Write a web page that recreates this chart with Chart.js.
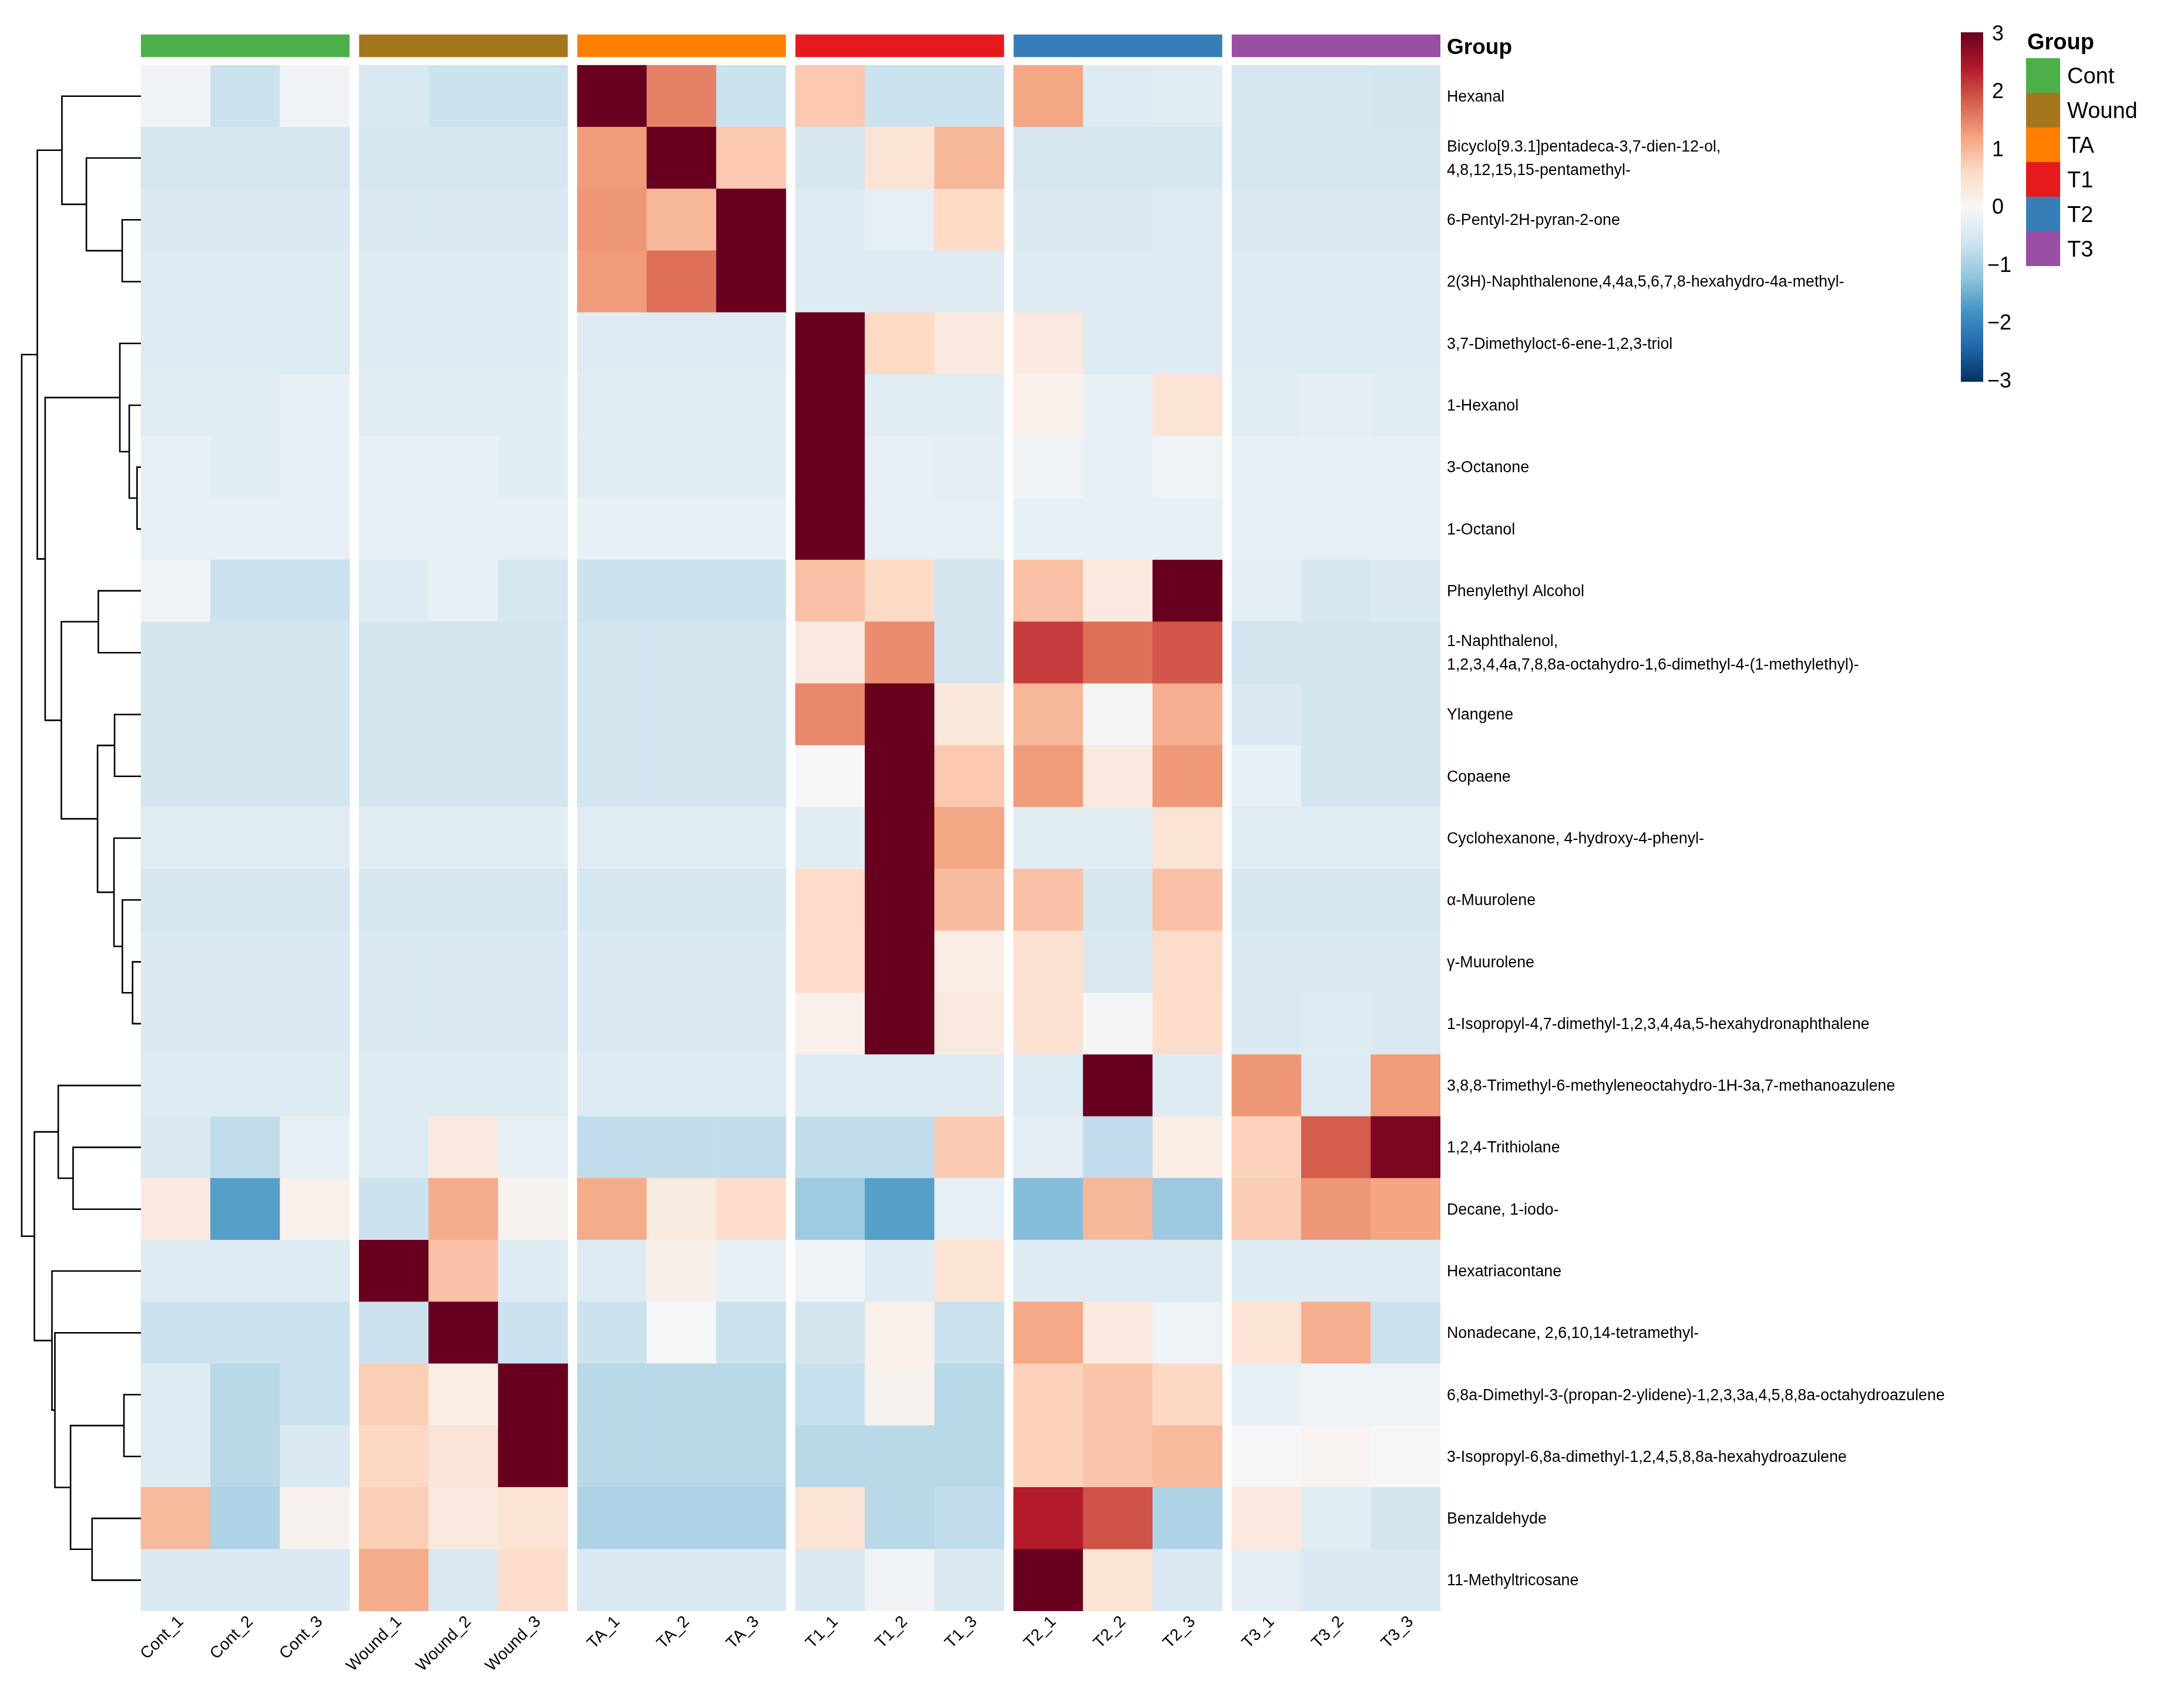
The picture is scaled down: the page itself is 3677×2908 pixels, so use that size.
<!DOCTYPE html>
<html>
<head>
<meta charset="utf-8">
<script src="https://cdn.jsdelivr.net/npm/chart.js"></script>
<style>
html,body{margin:0;padding:0;background:#fff;overflow:hidden}
#wrap{position:relative;width:3677px;height:2908px;font-family:'Liberation Sans',Arial,sans-serif;color:#000}
#c{position:absolute;left:0;top:0}
.lg{position:absolute;line-height:1;white-space:nowrap;transform:translateY(-50%)}
</style>
</head>
<body>
<div id="wrap"><canvas id="c" width="3677" height="2908"></canvas><div id="legend"></div></div>
<script>
// ---------------- data ----------------
const ROW_NAMES = [
  'Hexanal',
  ['Bicyclo[9.3.1]pentadeca-3,7-dien-12-ol,', '4,8,12,15,15-pentamethyl-'],
  '6-Pentyl-2H-pyran-2-one',
  '2(3H)-Naphthalenone,4,4a,5,6,7,8-hexahydro-4a-methyl-',
  '3,7-Dimethyloct-6-ene-1,2,3-triol',
  '1-Hexanol',
  '3-Octanone',
  '1-Octanol',
  'Phenylethyl Alcohol',
  ['1-Naphthalenol,', '1,2,3,4,4a,7,8,8a-octahydro-1,6-dimethyl-4-(1-methylethyl)-'],
  'Ylangene',
  'Copaene',
  'Cyclohexanone, 4-hydroxy-4-phenyl-',
  'α-Muurolene',
  'γ-Muurolene',
  '1-Isopropyl-4,7-dimethyl-1,2,3,4,4a,5-hexahydronaphthalene',
  '3,8,8-Trimethyl-6-methyleneoctahydro-1H-3a,7-methanoazulene',
  '1,2,4-Trithiolane',
  'Decane, 1-iodo-',
  'Hexatriacontane',
  'Nonadecane, 2,6,10,14-tetramethyl-',
  '6,8a-Dimethyl-3-(propan-2-ylidene)-1,2,3,3a,4,5,8,8a-octahydroazulene',
  '3-Isopropyl-6,8a-dimethyl-1,2,4,5,8,8a-hexahydroazulene',
  'Benzaldehyde',
  '11-Methyltricosane'
];
const COL_NAMES = ['Cont_1','Cont_2','Cont_3','Wound_1','Wound_2','Wound_3','TA_1','TA_2','TA_3',
                   'T1_1','T1_2','T1_3','T2_1','T2_2','T2_3','T3_1','T3_2','T3_3'];
const GROUP_NAMES = ['Cont','Wound','TA','T1','T2','T3'];
const GROUP_COLORS = ['#4DAF4A','#A6761D','#FF7F00','#E41A1C','#377EB8','#984EA3'];
const LEGEND_TICKS = [3,2,1,0,-1,-2,-3];
const PALETTE = ['#053061','#2166AC','#4393C3','#92C5DE','#D1E5F0','#F7F7F7','#FDDBC7','#F4A582','#D6604D','#B2182B','#67001F'];

// scaled values per group (rows in ROW_NAMES order, 3 samples each)
const CONT = [
  [-0.1,-0.65,-0.1],[-0.52,-0.52,-0.52],[-0.46,-0.46,-0.46],[-0.4,-0.4,-0.4],[-0.4,-0.4,-0.4],
  [-0.33,-0.33,-0.25],[-0.25,-0.33,-0.25],[-0.25,-0.25,-0.25],[-0.1,-0.65,-0.65],[-0.57,-0.57,-0.57],
  [-0.57,-0.57,-0.57],[-0.57,-0.57,-0.57],[-0.33,-0.33,-0.33],[-0.52,-0.52,-0.52],[-0.46,-0.46,-0.46],
  [-0.46,-0.46,-0.46],[-0.4,-0.4,-0.4],[-0.46,-0.75,-0.25],[0.3,-1.66,0.15],[-0.4,-0.4,-0.4],
  [-0.65,-0.65,-0.65],[-0.4,-0.83,-0.65],[-0.4,-0.83,-0.46],[0.97,-0.93,0.1],[-0.46,-0.46,-0.46]
];
const WOUND = [
  [-0.48,-0.65,-0.65],[-0.52,-0.52,-0.52],[-0.46,-0.46,-0.46],[-0.4,-0.4,-0.4],[-0.4,-0.4,-0.4],
  [-0.33,-0.33,-0.33],[-0.25,-0.25,-0.33],[-0.25,-0.25,-0.25],[-0.4,-0.25,-0.52],[-0.57,-0.57,-0.57],
  [-0.57,-0.57,-0.57],[-0.57,-0.57,-0.57],[-0.33,-0.33,-0.33],[-0.52,-0.52,-0.52],[-0.46,-0.46,-0.46],
  [-0.46,-0.46,-0.46],[-0.4,-0.4,-0.4],[-0.4,0.3,-0.25],[-0.65,1.12,0.1],[3,0.88,-0.4],
  [-0.65,3,-0.65],[0.75,0.22,3],[0.62,0.4,3],[0.75,0.3,0.42],[1.12,-0.46,0.55]
];
const TA = [
  [3,1.52,-0.65],[1.28,3,0.8],[1.32,0.99,3],[1.28,1.67,3],[-0.4,-0.4,-0.4],
  [-0.33,-0.33,-0.33],[-0.33,-0.33,-0.33],[-0.25,-0.25,-0.25],[-0.65,-0.65,-0.65],[-0.57,-0.57,-0.57],
  [-0.57,-0.57,-0.57],[-0.57,-0.57,-0.57],[-0.33,-0.33,-0.33],[-0.52,-0.52,-0.52],[-0.46,-0.46,-0.46],
  [-0.46,-0.46,-0.46],[-0.4,-0.4,-0.4],[-0.75,-0.75,-0.75],[1.12,0.25,0.55],[-0.4,0.18,-0.25],
  [-0.65,-0.03,-0.65],[-0.83,-0.83,-0.83],[-0.83,-0.83,-0.83],[-0.93,-0.93,-0.93],[-0.46,-0.46,-0.46]
];
const T1 = [
  [0.8,-0.65,-0.65],[-0.52,0.43,1.0],[-0.4,-0.27,0.6],[-0.4,-0.4,-0.4],[3,0.6,0.3],
  [3,-0.33,-0.33],[3,-0.25,-0.3],[3,-0.25,-0.25],[0.9,0.6,-0.57],[0.3,1.42,-0.57],
  [1.46,3,0.33],[0.0,3,0.8],[-0.33,3,1.18],[0.58,3,0.93],[0.55,3,0.22],
  [0.15,3,0.3],[-0.4,-0.4,-0.4],[-0.75,-0.75,0.78],[-1.08,-1.66,-0.25],[-0.15,-0.4,0.42],
  [-0.57,0.15,-0.65],[-0.7,0.1,-0.83],[-0.83,-0.83,-0.83],[0.42,-0.83,-0.75],[-0.46,-0.1,-0.46]
];
const T2 = [
  [1.18,-0.4,-0.33],[-0.52,-0.52,-0.52],[-0.46,-0.46,-0.4],[-0.4,-0.4,-0.4],[0.28,-0.4,-0.4],
  [0.15,-0.25,0.42],[-0.1,-0.25,-0.15],[-0.25,-0.25,-0.25],[0.9,0.3,3],[2.08,1.66,1.89],
  [1.0,-0.05,1.1],[1.27,0.3,1.3],[-0.33,-0.33,0.42],[0.9,-0.52,0.9],[0.48,-0.46,0.58],
  [0.45,-0.05,0.55],[-0.4,3,-0.4],[-0.3,-0.75,0.22],[-1.3,0.98,-1.1],[-0.4,-0.4,-0.4],
  [1.15,0.3,-0.15],[0.7,0.85,0.62],[0.7,0.85,0.97],[2.38,1.92,-0.93],[3,0.42,-0.46]
];
const T3 = [
  [-0.52,-0.52,-0.57],[-0.52,-0.52,-0.52],[-0.46,-0.46,-0.46],[-0.4,-0.4,-0.4],[-0.4,-0.4,-0.4],
  [-0.33,-0.3,-0.33],[-0.25,-0.25,-0.25],[-0.25,-0.25,-0.25],[-0.3,-0.52,-0.46],[-0.57,-0.57,-0.57],
  [-0.46,-0.57,-0.57],[-0.25,-0.57,-0.57],[-0.33,-0.33,-0.33],[-0.52,-0.52,-0.52],[-0.46,-0.46,-0.46],
  [-0.46,-0.4,-0.46],[1.32,-0.4,1.28],[0.68,1.82,2.85],[0.77,1.32,1.2],[-0.4,-0.4,-0.4],
  [0.42,1.08,-0.65],[-0.25,-0.15,-0.15],[-0.03,0.08,0.03],[0.3,-0.33,-0.57],[-0.3,-0.46,-0.46]
];

// row clustering, hclust style: negative = leaf (1-based row), positive = earlier merge
const MERGE = [
  [-7,-8],[-15,-16],[-6,1],[-22,-23],[-3,-4],[-14,2],[-5,3],[-11,-12],[-13,6],[-9,-10],
  [8,9],[-24,-25],[-2,5],[-18,-19],[4,12],[-1,13],[10,11],[-17,14],[-21,15],[-20,19],
  [7,17],[16,21],[18,20],[22,23]
];
const MERGE_HEIGHT = [
  0.67,1.43,2.0,2.9,3.2,3.17,3.6,4.5,4.6,7.27,
  7.4,8.33,9.3,11.57,12.0,13.47,13.57,14.1,14.67,15.17,
  16.33,17.67,18.17,20.33
];

// ---------------- layout constants ----------------
const FONT = "'Liberation Sans', Arial, sans-serif";
const GAP = 0.137;              // gap between sample groups, in column widths
const X_MAX = 18 + 5 * GAP;
const X_MIN = -2.027;           // room for the row dendrogram
const DENDRO_SPAN = 1.715;      // dendrogram width in column widths
const ANNOT_TOP = -0.5, ANNOT_BOTTOM = -0.13, GROUP_TICK = -0.28;

// ---------------- helpers ----------------
function hexToRgb(h){ return [parseInt(h.slice(1,3),16),parseInt(h.slice(3,5),16),parseInt(h.slice(5,7),16)]; }
function colorFor(v){
  const t = (Math.max(-3, Math.min(3, v)) + 3) / 6 * (PALETTE.length - 1);
  const i = Math.min(Math.floor(t), PALETTE.length - 2);
  const f = t - i;
  const a = hexToRgb(PALETTE[i]), b = hexToRgb(PALETTE[i+1]);
  const c = a.map((x, k) => Math.round(x + (b[k] - x) * f));
  return 'rgb(' + c.join(',') + ')';
}
function colCenter(g, j){ return g * (3 + GAP) + j + 0.5; }

// ---------------- datasets ----------------
const GROUP_DATA = [CONT, WOUND, TA, T1, T2, T3];
const cells = [], cellColors = [];
GROUP_DATA.forEach((grp, gi) => grp.forEach((row, ri) => row.forEach((v, j) => {
  cells.push({x: colCenter(gi, j), y: [ri, ri + 1]});
  cellColors.push(colorFor(v));
})));
const annot = GROUP_NAMES.map((n, gi) => ({x: colCenter(gi, 1), y: [ANNOT_TOP, ANNOT_BOTTOM]}));
const colCenters = [];
GROUP_NAMES.forEach((n, gi) => { for (let j = 0; j < 3; j++) colCenters.push(colCenter(gi, j)); });

const ROOT_H = Math.max(...MERGE_HEIGHT);
const nodes = [];
const dendroSets = [];
function nodePos(id){ return id < 0 ? {x: 0, y: (-id - 1) + 0.5} : nodes[id - 1]; }
MERGE.forEach(([a, b], k) => {
  const pa = nodePos(a), pb = nodePos(b);
  const xh = -MERGE_HEIGHT[k] / ROOT_H * DENDRO_SPAN;
  nodes.push({x: xh, y: (pa.y + pb.y) / 2});
  dendroSets.push({
    type: 'line',
    data: [{x: pa.x, y: pa.y}, {x: xh, y: pa.y}, {x: xh, y: pb.y}, {x: pb.x, y: pb.y}],
    borderColor: '#000', borderWidth: 2.6, pointRadius: 0, tension: 0, fill: false,
    borderJoinStyle: 'miter', order: 0
  });
});

// ---------------- chart ----------------
new Chart(document.getElementById('c'), {
  type: 'bar',
  data: {
    datasets: [
      {data: cells, backgroundColor: cellColors, borderWidth: 0, grouped: false,
       categoryPercentage: 1, barPercentage: 1, order: 2},
      {data: annot, backgroundColor: GROUP_COLORS, borderWidth: 0, grouped: false,
       categoryPercentage: 1, barPercentage: 3, order: 2},
      ...dendroSets
    ]
  },
  options: {
    responsive: false, animation: false, events: [],
    layout: {padding: {top: 58.4, left: 0, right: 0, bottom: 0}},
    plugins: {legend: {display: false}, tooltip: {enabled: false}},
    scales: {
      x: {
        type: 'linear', min: X_MIN, max: X_MAX, offset: false, bounds: 'data',
        grid: {display: false, drawTicks: false}, border: {display: false},
        afterBuildTicks: s => { s.ticks = colCenters.map(v => ({value: v})); },
        afterFit: s => { s.height = 165; },
        ticks: {autoSkip: false, minRotation: 45, maxRotation: 45, padding: 2, labelOffset: 9, color: '#000',
                font: {family: FONT, size: 28}, callback: (v, i) => COL_NAMES[i]}
      },
      y: {
        type: 'linear', position: 'right', reverse: true, min: ANNOT_TOP, max: 25, bounds: 'data',
        grid: {display: false, drawTicks: false}, border: {display: false},
        afterBuildTicks: s => { s.ticks = [{value: GROUP_TICK}].concat(ROW_NAMES.map((n, i) => ({value: i + 0.515}))); },
        afterFit: s => { s.width = 1225; },
        ticks: {autoSkip: false, padding: 11, color: '#000',
                font: ctx => (ctx.index === 0 ? {family: FONT, size: 37, weight: 'bold', lineHeight: 1.2}
                                              : {family: FONT, size: 26.8, lineHeight: 1.5}),
                callback: (v, i) => (i === 0 ? 'Group' : ROW_NAMES[i - 1])}
      }
    }
  }
});

// ---------------- legends (HTML) ----------------
const lg = document.getElementById('legend');
function add(html, style){ const d = document.createElement('div'); d.className = 'lg'; d.innerHTML = html; Object.assign(d.style, style); lg.appendChild(d); return d; }
const bar = document.createElement('div');
Object.assign(bar.style, {position: 'absolute', left: '3338px', top: '55px', width: '38px', height: '595px',
  background: 'linear-gradient(to top,' + PALETTE.join(',') + ')'});
lg.appendChild(bar);
LEGEND_TICKS.forEach(v => {
  add(String(v).replace('-', '\u2212'), {left: (v < 0 ? 3383 : 3391) + 'px', top: (352 - v * 98.5) + 'px',
      fontSize: '36px'});
});
add('Group', {left: '3451px', top: '71px', fontSize: '38px', fontWeight: 'bold'});
GROUP_NAMES.forEach((n, i) => {
  const sw = document.createElement('div');
  Object.assign(sw.style, {position: 'absolute', left: '3449px', top: (99 + i * 59) + 'px', width: '58px',
    height: '59px', background: GROUP_COLORS[i]});
  lg.appendChild(sw);
  add(n, {left: '3519px', top: (129 + i * 59) + 'px', fontSize: '38px'});
});
</script>
</body>
</html>
